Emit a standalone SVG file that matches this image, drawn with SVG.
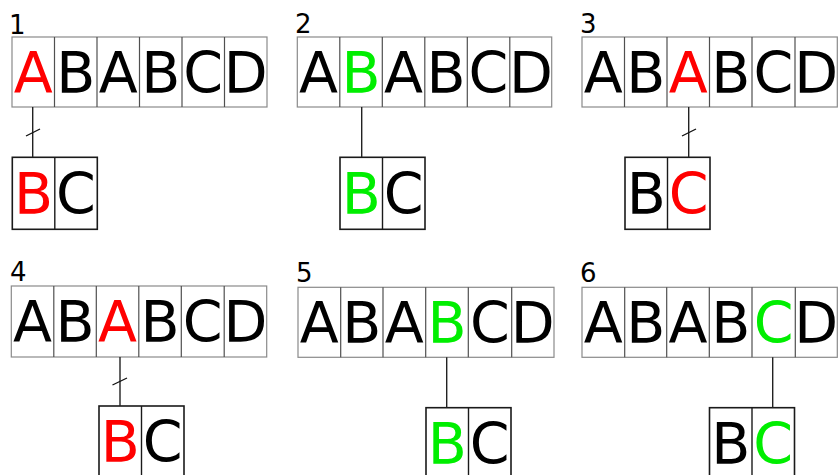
<svg xmlns="http://www.w3.org/2000/svg" width="838" height="475" viewBox="0 0 838 475">
  <style>
    .row { fill: #fff; stroke: #8a8a8a; stroke-width: 1.2; }
    .div { stroke: #505050; stroke-width: 1.2; }
    .sub { fill: #fff; stroke: #1a1a1a; stroke-width: 1.6; }
    .subdiv { stroke: #1a1a1a; stroke-width: 1.4; }
    .ch { font-family: "DejaVu Sans", sans-serif; font-size: 57px; text-anchor: middle; fill: #000; }
    .num { font-family: "DejaVu Sans", sans-serif; font-size: 26px; fill: #000; }
    .red { fill: #ff0000; }
    .grn { fill: #00ee00; }
    .link { stroke: #222; stroke-width: 1.4; fill: none; }
    .cut { stroke: #111; stroke-width: 1.3; }
  </style>

  <!-- Step 1: A vs B mismatch -->
  <g id="step1">
    <text class="num" x="9" y="34">1</text>
    <rect class="row" x="12" y="37" width="255" height="70"/>
    <path class="div" d="M54.5 37V107M97 37V107M139.5 37V107M182 37V107M224.5 37V107"/>
    <text class="ch red" x="33.25" y="92.7">A</text>
    <text class="ch" x="75.75" y="92.7">B</text>
    <text class="ch" x="118.25" y="92.7">A</text>
    <text class="ch" x="160.75" y="92.7">B</text>
    <text class="ch" x="203.25" y="92.7">C</text>
    <text class="ch" x="245.75" y="92.7">D</text>
    <rect class="sub" x="12.3" y="157.3" width="85" height="72"/>
    <path class="subdiv" d="M54.8 157.3V229.3"/>
    <text class="ch red" x="33.5" y="214.3">B</text>
    <text class="ch" x="76" y="214.3">C</text>
  </g>

  <!-- Step 2: B matches B -->
  <g id="step2">
    <text class="num" x="295" y="33">2</text>
    <rect class="row" x="297.3" y="37" width="254.4" height="70"/>
    <path class="div" d="M339.8 37V107M382.3 37V107M424.8 37V107M467.3 37V107M509.8 37V107"/>
    <text class="ch" x="318.5" y="92.7">A</text>
    <text class="ch grn" x="361" y="92.7">B</text>
    <text class="ch" x="403.5" y="92.7">A</text>
    <text class="ch" x="446" y="92.7">B</text>
    <text class="ch" x="488.5" y="92.7">C</text>
    <text class="ch" x="531" y="92.7">D</text>
    <rect class="sub" x="340" y="157.3" width="85" height="72"/>
    <path class="subdiv" d="M382.5 157.3V229.3"/>
    <text class="ch grn" x="361.25" y="214.3">B</text>
    <text class="ch" x="403.75" y="214.3">C</text>
  </g>

  <!-- Step 3: A vs C mismatch -->
  <g id="step3">
    <text class="num" x="580" y="33">3</text>
    <rect class="row" x="582" y="37" width="255.3" height="70"/>
    <path class="div" d="M624.5 37V107M667 37V107M709.5 37V107M752 37V107M795 37V107"/>
    <text class="ch" x="603.25" y="92.7">A</text>
    <text class="ch" x="645.75" y="92.7">B</text>
    <text class="ch red" x="688.25" y="92.7">A</text>
    <text class="ch" x="730.75" y="92.7">B</text>
    <text class="ch" x="773.5" y="92.7">C</text>
    <text class="ch" x="816.2" y="92.7">D</text>
    <rect class="sub" x="625" y="157.3" width="85" height="72"/>
    <path class="subdiv" d="M667.5 157.3V229.3"/>
    <text class="ch" x="646.25" y="214.3">B</text>
    <text class="ch red" x="688.75" y="214.3">C</text>
  </g>

  <!-- Step 4: A vs B mismatch after shift -->
  <g id="step4">
    <text class="num" x="10" y="281">4</text>
    <rect class="row" x="11.3" y="286" width="255.4" height="71"/>
    <path class="div" d="M53.8 286V357M96.3 286V357M138.8 286V357M181.3 286V357M224.2 286V357"/>
    <text class="ch" x="32.5" y="341.7">A</text>
    <text class="ch" x="75" y="341.7">B</text>
    <text class="ch red" x="117.5" y="341.7">A</text>
    <text class="ch" x="160" y="341.7">B</text>
    <text class="ch" x="202.7" y="341.7">C</text>
    <text class="ch" x="245.5" y="341.7">D</text>
    <rect class="sub" x="99" y="406" width="85" height="72"/>
    <path class="subdiv" d="M141.5 406V478"/>
    <text class="ch red" x="120.25" y="462">B</text>
    <text class="ch" x="162.75" y="462">C</text>
  </g>

  <!-- Step 5: B matches B -->
  <g id="step5">
    <text class="num" x="296" y="282">5</text>
    <rect class="row" x="298" y="287.3" width="256" height="70"/>
    <path class="div" d="M340.7 287.3V357.3M383 287.3V357.3M425.7 287.3V357.3M468.3 287.3V357.3M511.7 287.3V357.3"/>
    <text class="ch" x="319.3" y="342.7">A</text>
    <text class="ch" x="361.8" y="342.7">B</text>
    <text class="ch" x="404.3" y="342.7">A</text>
    <text class="ch grn" x="447" y="342.7">B</text>
    <text class="ch" x="490" y="342.7">C</text>
    <text class="ch" x="532.8" y="342.7">D</text>
    <rect class="sub" x="426" y="407.7" width="85" height="72"/>
    <path class="subdiv" d="M468.5 407.7V479.7"/>
    <text class="ch grn" x="447.25" y="463.5">B</text>
    <text class="ch" x="489.75" y="463.5">C</text>
  </g>

  <!-- Step 6: C matches C -->
  <g id="step6">
    <text class="num" x="580" y="282">6</text>
    <rect class="row" x="582" y="287.3" width="255.3" height="70"/>
    <path class="div" d="M624.7 287.3V357.3M666.7 287.3V357.3M709.3 287.3V357.3M752 287.3V357.3M795.3 287.3V357.3"/>
    <text class="ch" x="603.3" y="342.7">A</text>
    <text class="ch" x="645.7" y="342.7">B</text>
    <text class="ch" x="688" y="342.7">A</text>
    <text class="ch" x="730.7" y="342.7">B</text>
    <text class="ch grn" x="773.7" y="342.7">C</text>
    <text class="ch" x="816.3" y="342.7">D</text>
    <rect class="sub" x="709.5" y="407.7" width="85" height="72"/>
    <path class="subdiv" d="M752 407.7V479.7"/>
    <text class="ch" x="730.75" y="463.5">B</text>
    <text class="ch grn" x="773.25" y="463.5">C</text>
  </g>

  <!-- Links between text cells and pattern cells; slashed ones mark mismatches -->
  <g id="connectors">
    <path class="link" d="M32.7 107V157.3"/>
    <path class="cut" d="M26 136L40 129"/>
    <path class="link" d="M361.7 107V157.3"/>
    <path class="link" d="M688.7 107V157.3"/>
    <path class="cut" d="M682 136L696 129"/>
    <path class="link" d="M120 357V406"/>
    <path class="cut" d="M112.5 385L127 378"/>
    <path class="link" d="M446.7 357.3V407.7"/>
    <path class="link" d="M772.7 357.3V407.7"/>
  </g>
</svg>
